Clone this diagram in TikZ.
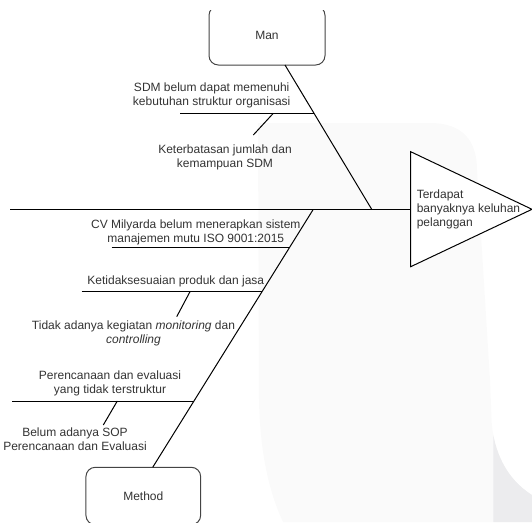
\documentclass[tikz,border=0pt]{standalone}
\usepackage{fontspec}
\setmainfont{Liberation Sans}
\definecolor{txt}{HTML}{333333}
\definecolor{wmlight}{HTML}{FAFAFA}
\definecolor{wmdark}{HTML}{ECECEE}
\definecolor{boxline}{HTML}{444444}
\begin{document}
\begin{tikzpicture}[x=0.75pt,y=-0.75pt,
  lbl/.style={text=txt,font=\fontsize{9pt}{10.5pt}\selectfont,align=center,inner sep=0pt},
  bone/.style={draw=black,line width=0.75pt},
  catbox/.style={draw=boxline,line width=0.75pt,rounded corners=7pt,fill=white,text=txt,
    font=\fontsize{9pt}{10.5pt}\selectfont,inner sep=0pt}]
\useasboundingbox (0,0) rectangle (532,522);
\clip (0,0) rectangle (532,522);
% faint background shapes
\fill[wmlight] (258,123) -- (430,123) .. controls (462,123) and (477,140) .. (477,170)
  -- (490,380) -- (491.7,423) .. controls (494,450) and (505,478) .. (532,495)
  -- (532,522) -- (283,522) .. controls (268,490) and (260,450) .. (259,400) -- cycle;
\begin{scope}
\clip (493.3,0) rectangle (532,522);
\fill[wmdark] (491.7,423) .. controls (494,450) and (505,478) .. (532,495)
  -- (532,522) -- (491.7,522) -- cycle;
\end{scope}
% category boxes
\begin{scope}
\clip (0,10) rectangle (532,522);
\node[catbox,minimum width=116*0.75pt,minimum height=59*0.75pt] (man) at (267,35.5) {Man};
\end{scope}
\node[catbox,minimum width=114.7*0.75pt,minimum height=57.4*0.75pt] (method) at (143.3,496) {Method};
% effect head
\coordinate (tl) at (410.7,151.7);
\coordinate (tip) at (532,209.3);
\coordinate (bl) at (410.7,266.7);
\filldraw[draw=black,line width=0.75pt,fill=white] (tl) -- (tip) -- (bl) -- cycle;
\node[lbl,align=left,anchor=west] (effect) at (416.5,209.3) {Terdapat\\banyaknya keluhan\\pelanggan};
% spine
\coordinate (tail) at (10,209.3);
\coordinate (head) at (410.7,209.3);
\draw[bone] (tail) -- (head);
% Man bone
\coordinate (manfoot) at (285,65);
\coordinate (manjoin) at (371.7,209.3);
\draw[bone] (manfoot) -- (manjoin);
% Method bone
\coordinate (methjoin) at (313.3,209.3);
\coordinate (methtop) at (152.7,467.3);
\draw[bone] (methjoin) -- (methtop);
% Man causes
\coordinate (c1a) at (180,113.3);
\coordinate (c1b) at (314,113.3);
\draw[bone] (c1a) -- (c1b);
\node[lbl] (c1) at (211.7,95.8) {SDM belum dapat memenuhi\\kebutuhan struktur organisasi};
\coordinate (s1a) at (273.3,113.3);
\coordinate (s1b) at (253.3,135);
\draw[bone] (s1a) -- (s1b);
\node[lbl] (s1) at (225,157.2) {Keterbatasan jumlah dan\\kemampuan SDM};
% Method causes
\coordinate (c2a) at (111.7,247.7);
\coordinate (c2b) at (289.4,247.7);
\draw[bone] (c2a) -- (c2b);
\node[lbl] (c2) at (195.8,232.5) {CV Milyarda belum menerapkan sistem\\manajemen mutu ISO 9001:2015};
\coordinate (c3a) at (81.7,291.7);
\coordinate (c3b) at (262.1,291.7);
\draw[bone] (c3a) -- (c3b);
\node[lbl] (c3) at (175.8,281) {Ketidaksesuaian produk dan jasa};
\coordinate (s3a) at (190,291.7);
\coordinate (s3b) at (176.7,316.7);
\draw[bone] (s3a) -- (s3b);
\node[lbl] (s3) at (133.5,333) {Tidak adanya kegiatan \textit{monitoring} dan\\\textit{controlling}};
\coordinate (c4a) at (12.3,401);
\coordinate (c4b) at (194,401);
\draw[bone] (c4a) -- (c4b);
\node[lbl] (c4) at (110,383.8) {Perencanaan dan evaluasi\\yang tidak terstruktur};
\coordinate (s4a) at (117.3,401);
\coordinate (s4b) at (103.3,425);
\draw[bone] (s4a) -- (s4b);
\node[lbl] (s4) at (75,438.8) {Belum adanya SOP\\Perencanaan dan Evaluasi};
\end{tikzpicture}
\end{document}
